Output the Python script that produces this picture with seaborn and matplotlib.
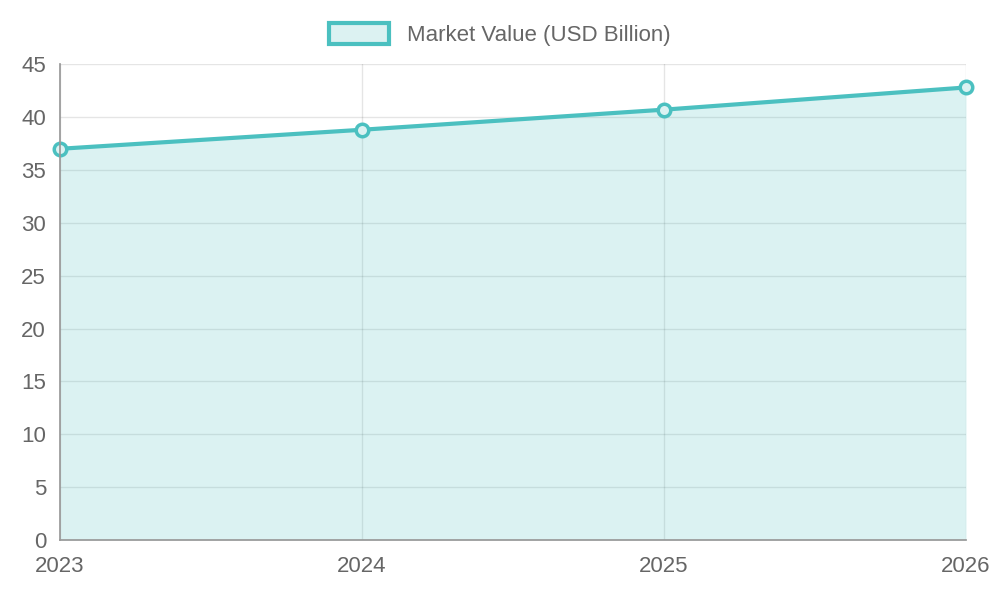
import matplotlib
matplotlib.use("Agg")
import matplotlib.pyplot as plt
import seaborn as sns
import pandas as pd
from matplotlib.patches import Patch

years = [2023, 2024, 2025, 2026]
values = [37.0, 38.8, 40.7, 42.8]
yticks = [0, 5, 10, 15, 20, 25, 30, 35, 40, 45]
label = "Market Value (USD Billion)"

sns.set_theme(style="white")
plt.rcParams['font.family'] = ['Liberation Sans', 'DejaVu Sans']
df = pd.DataFrame({"year": years, "value": values})

fig = plt.figure(figsize=(10, 6), dpi=100)
ax = fig.add_axes([0.06, 0.10, 0.906, 0.793])
line_c = "#4bc0c0"
ax.fill_between(df["year"], df["value"], 0, color=line_c, alpha=0.2, linewidth=0)
sns.lineplot(data=df, x="year", y="value", ax=ax, color=line_c, linewidth=3,
             marker="o", markersize=9, markerfacecolor="#dcf2f2",
             markeredgecolor=line_c, markeredgewidth=2.5, clip_on=False)
ax.set_xlim(2023, 2026)
ax.set_ylim(0, 45)
ax.set_xticks(years)
ax.set_yticks(yticks)
ax.set_xlabel("")
ax.set_ylabel("")
ax.grid(True, color="#000000", alpha=0.1, linewidth=1)
for s in ["top", "right"]:
    ax.spines[s].set_visible(False)
for s in ["left", "bottom"]:
    ax.spines[s].set_color("#999999")
ax.tick_params(axis="both", labelsize=16, colors="#666666", length=8, width=1)
ax.tick_params(axis="y", length=8, pad=2)
ax.tick_params(axis="both", color="#cccccc")
for t in ax.get_xticklabels() + ax.get_yticklabels():
    t.set_color("#666666")
handle = Patch(facecolor="#dcf2f2", edgecolor=line_c, linewidth=3)
fig.legend([handle], [label], loc="upper center", bbox_to_anchor=(0.5, 0.995),
           frameon=False, fontsize=16, labelcolor="#666666",
           handlelength=2.7, handleheight=1.1)
fig.savefig("out.png")
